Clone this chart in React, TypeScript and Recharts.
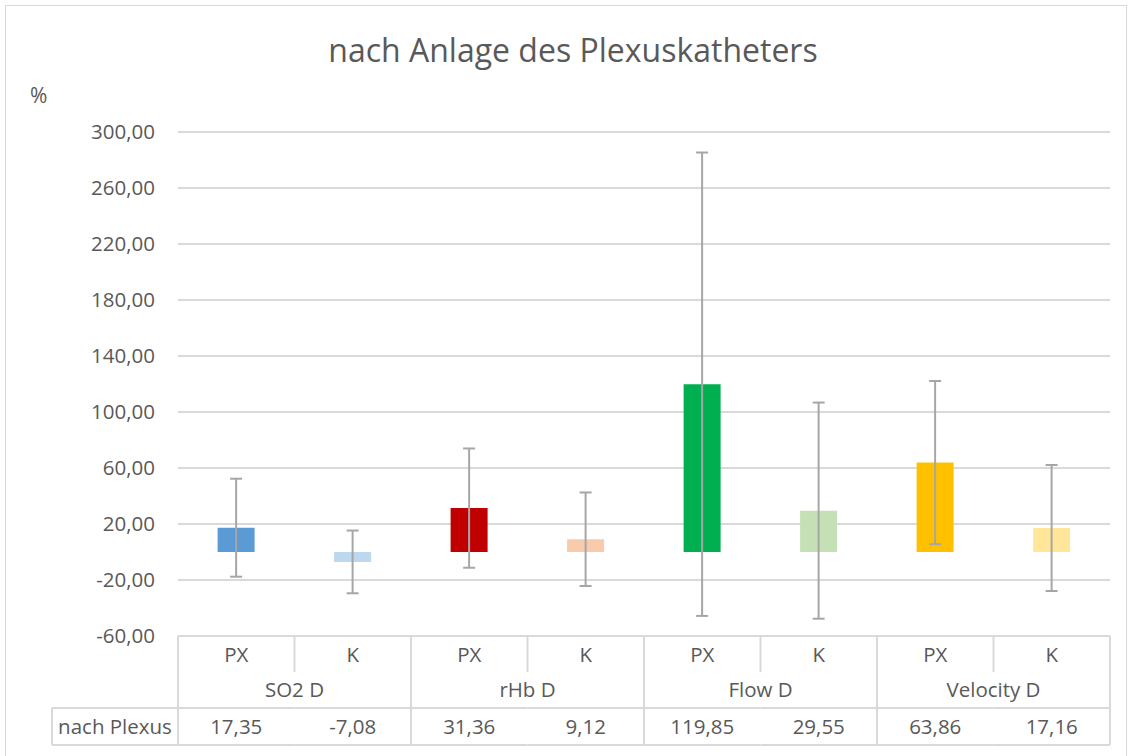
import React from "react";
import {
  BarChart,
  Bar,
  Cell,
  XAxis,
  YAxis,
  CartesianGrid,
  ErrorBar,
} from "recharts";

// chart data
const series = ["PX", "K", "PX", "K", "PX", "K", "PX", "K"];
const groups = ["SO2 D", "rHb D", "Flow D", "Velocity D"];
const means = [17.35, -7.08, 31.36, 9.12, 119.85, 29.55, 63.86, 17.16];
const errors = [35, 22.4, 42.6, 33.4, 165.5, 77.2, 58.3, 45];
const colors = [
  "#5B9BD5",
  "#BDD7EE",
  "#C00000",
  "#F8CBAD",
  "#00B050",
  "#C5E0B4",
  "#FFC000",
  "#FFE699",
];
const yTicks = [-60, -20, 20, 60, 100, 140, 180, 220, 260, 300];
const rowLabel = "nach Plexus";

const data = series.map((s, i) => ({
  name: s,
  group: groups[Math.floor(i / 2)],
  value: means[i],
  err: errors[i],
}));

const W = 1132;
const H = 756;
const PLOT_LEFT = 178;
const PLOT_RIGHT = 22;
const PLOT_TOP = 132;
const AXIS_H = 120;
const BAND = (W - PLOT_LEFT - PLOT_RIGHT) / series.length;

const FONT = "'Open Sans', sans-serif";
const TXT = "#595959";
const LINE = "#D9D9D9";

const fmt = (v: number) => v.toFixed(2).replace(".", ",");

function TableTick(props: any) {
  const { x, y, index } = props;
  const d = data[index];
  const left = x - BAND / 2;
  const right = x + BAND / 2;
  const last = index % 2 === 1;
  return (
    <g fontFamily={FONT} fontSize={20.5} fill={TXT}>
      {index === 0 && (
        <>
          <line x1={left} x2={left} y1={y} y2={y + 109} stroke={LINE} strokeWidth={2} />
          <line x1={left - 126} x2={left} y1={y + 72} y2={y + 72} stroke={LINE} strokeWidth={2} />
          <line x1={left - 126} x2={left} y1={y + 109} y2={y + 109} stroke={LINE} strokeWidth={2} />
          <line x1={left - 126} x2={left - 126} y1={y + 72} y2={y + 109} stroke={LINE} strokeWidth={2} />
          <text x={left - 63} y={y + 98} textAnchor="middle" fill={TXT}>
            {rowLabel}
          </text>
        </>
      )}
      <line
        x1={right}
        x2={right}
        y1={y}
        y2={last ? y + 109 : y + 36}
        stroke={LINE}
        strokeWidth={2}
      />
      <line x1={left} x2={right} y1={y + 72} y2={y + 72} stroke={LINE} strokeWidth={2} />
      <line x1={left} x2={right} y1={y + 109} y2={y + 109} stroke={LINE} strokeWidth={2} />
      <text x={x} y={y + 26} textAnchor="middle" fill={TXT}>
        {d.name}
      </text>
      {!last && (
        <text x={right} y={y + 61} textAnchor="middle" fill={TXT}>
          {d.group}
        </text>
      )}
      <text x={x} y={y + 98} textAnchor="middle" fill={TXT}>
        {fmt(d.value)}
      </text>
    </g>
  );
}

export default function App() {
  return (
    <div style={{ position: "absolute", left: 0, top: 0, width: W, height: H, background: "#fff" }}>
      <div
        style={{
          position: "absolute",
          left: 5,
          top: 5,
          width: 1122,
          height: 800,
          border: `1px solid ${LINE}`,
          boxSizing: "border-box",
        }}
      />
      <svg
        width={W}
        height={120}
        style={{ position: "absolute", left: 0, top: 0 }}
        fontFamily={FONT}
      >
        <text x={573} y={62} textAnchor="middle" fontSize={32} fill={TXT}>
          nach Anlage des Plexuskatheters
        </text>
        <text x={30} y={103} fontSize={21} fill={TXT}>
          %
        </text>
      </svg>
      <div style={{ position: "absolute", left: 0, top: 0 }}>
        <BarChart
          width={W}
          height={H}
          data={data}
          margin={{ top: PLOT_TOP, right: PLOT_RIGHT, bottom: 0, left: 0 }}
          barCategoryGap="34%"
        >
          <CartesianGrid vertical={false} stroke={LINE} strokeWidth={2} />
          <YAxis
            type="number"
            domain={[-60, 300]}
            ticks={yTicks}
            interval={0}
            width={PLOT_LEFT}
            axisLine={false}
            tickLine={false}
            tickSize={0}
            tickMargin={23}
            tickFormatter={fmt}
            tick={{ fontFamily: FONT, fontSize: 20.5, fill: TXT }}
          />
          <XAxis
            dataKey="name"
            height={AXIS_H}
            interval={0}
            axisLine={false}
            tickLine={false}
            tickSize={0}
            tickMargin={0}
            tick={<TableTick />}
          />
          <Bar dataKey="value" isAnimationActive={false}>
            {data.map((d, i) => (
              <Cell key={i} fill={colors[i]} />
            ))}
            <ErrorBar
              dataKey="err"
              direction="y"
              width={6}
              stroke="#A6A6A6"
              strokeWidth={2}
              isAnimationActive={false}
            />
          </Bar>
        </BarChart>
      </div>
    </div>
  );
}
